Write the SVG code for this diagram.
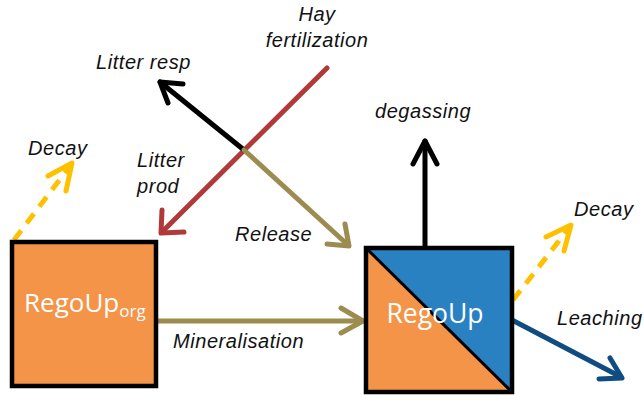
<svg xmlns="http://www.w3.org/2000/svg" width="644" height="399" viewBox="0 0 644 399">
  <style>
    .lbl { font-family: "Liberation Sans", Arial, sans-serif; font-style: italic; font-size: 20px; letter-spacing: 0.55px; fill: #111; }
    .box-text { font-family: "Open Sans", "Liberation Sans", sans-serif; fill: #fff; }
    .flow { fill: none; stroke-width: 5; stroke-linecap: round; stroke-linejoin: round; }
    .dash { stroke-dasharray: 12 9; stroke-linecap: butt; }
    .black { stroke: #000; }
    .red { stroke: #B03A3A; }
    .olive { stroke: #9C8C50; }
    .blue { stroke: #0F4C81; }
    .yellow { stroke: #FFC000; }
    .frame { stroke: #000; stroke-width: 4.5; }
  </style>

  <!-- Connectors -->
  <g id="connectors">
    <!-- Hay fertilization / Litter prod -->
    <line class="flow red" x1="327" y1="68" x2="162" y2="232"/>
    <polyline class="flow red" points="162,210 161,233 184,232"/>
    <!-- Litter resp -->
    <line class="flow black" x1="244" y1="150" x2="160" y2="82"/>
    <polyline class="flow black" points="183,84 160,82 168,103"/>
    <!-- Release -->
    <line class="flow olive" x1="244" y1="150" x2="348" y2="245"/>
    <polyline class="flow olive" points="327,244 349,246 345,224"/>
    <!-- Mineralisation -->
    <line class="flow olive" x1="157" y1="321" x2="362" y2="321"/>
    <polyline class="flow olive" points="341,308 363,321 341,333"/>
    <!-- Decay from RegoUp_org -->
    <line class="flow yellow dash" x1="14" y1="240" x2="70" y2="166"/>
    <polyline class="flow yellow" points="48,176 72,163 66,191"/>
    <!-- Decay from RegoUp -->
    <line class="flow yellow dash" x1="513" y1="300" x2="569" y2="228"/>
    <polyline class="flow yellow" points="546,237 571,225 564,251"/>
    <!-- degassing -->
    <line class="flow black" x1="425" y1="248" x2="425" y2="141"/>
    <polyline class="flow black" points="413,164 425,141 437,164"/>
    <!-- Leaching -->
    <line class="flow blue" x1="512" y1="320" x2="621" y2="377"/>
    <polyline class="flow blue" points="610,358 622,378 599,379"/>
  </g>

  <!-- Node: RegoUp_org -->
  <g id="node-regoup-org">
    <rect x="12" y="242" width="144" height="144" fill="#F39449" class="frame"/>
    <text class="box-text" x="24" y="312" font-size="26">RegoUp<tspan font-size="17" dy="5">org</tspan></text>
  </g>

  <!-- Node: RegoUp -->
  <g id="node-regoup">
    <rect x="366" y="248" width="146" height="144" fill="#F39449"/>
    <polygon points="366,248 512,248 512,392" fill="#2A81C2"/>
    <line x1="366" y1="248" x2="512" y2="392" stroke="#000" stroke-width="3"/>
    <rect x="366" y="248" width="146" height="144" fill="none" class="frame"/>
    <text class="box-text" x="435" y="323" font-size="26.5" text-anchor="middle">RegoUp</text>
  </g>

  <!-- Labels -->
  <g id="labels">
    <text class="lbl" x="317" y="21" text-anchor="middle">Hay</text>
    <text class="lbl" x="317" y="47" text-anchor="middle">fertilization</text>
    <text class="lbl" x="96" y="69">Litter resp</text>
    <text class="lbl" x="137" y="167">Litter</text>
    <text class="lbl" x="137" y="193">prod</text>
    <text class="lbl" x="28" y="155">Decay</text>
    <text class="lbl" x="235" y="241">Release</text>
    <text class="lbl" x="173" y="348">Mineralisation</text>
    <text class="lbl" x="375" y="118">degassing</text>
    <text class="lbl" x="574" y="216">Decay</text>
    <text class="lbl" x="557" y="325">Leaching</text>
  </g>
</svg>
